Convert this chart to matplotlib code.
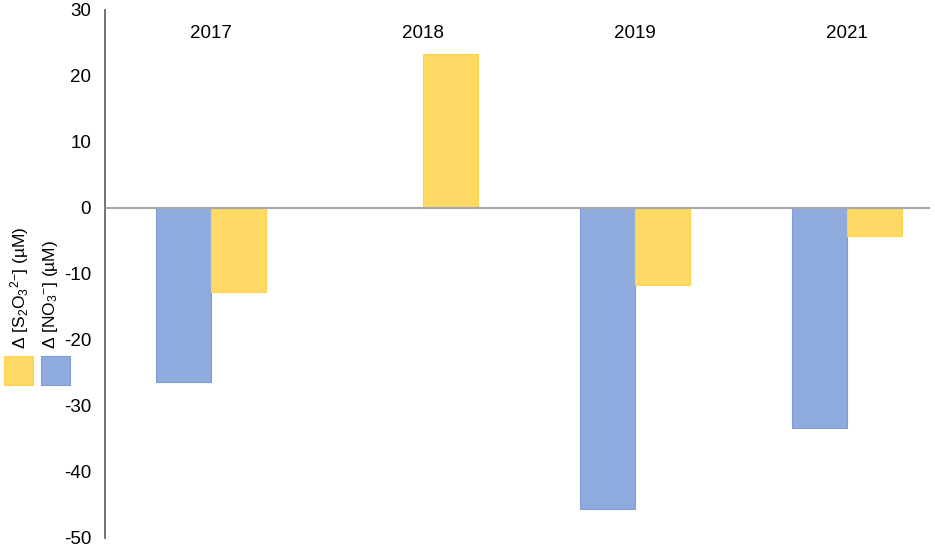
import numpy as np
import matplotlib
matplotlib.use("Agg")
from matplotlib import pyplot as plt
from matplotlib.patches import Rectangle

years = ["2017", "2018", "2019", "2021"]
no3 = [-26.4, np.nan, -45.6, -33.3]      # Δ[NO3-] (µM)
s2o3 = [-12.8, 23.3, -11.7, -4.2]        # Δ[S2O3 2-] (µM)
yticks = [30, 20, 10, 0, -10, -20, -30, -40, -50]

blue = "#8faadc"
yellow = "#ffd966"

plt.rcParams['font.family'] = ['Liberation Sans', 'DejaVu Sans']
plt.rcParams['font.size'] = 13.5
plt.rcParams['axes.unicode_minus'] = False
plt.rcParams['mathtext.fontset'] = 'custom'
plt.rcParams['mathtext.rm'] = 'Liberation Sans'
plt.rcParams['mathtext.it'] = 'Liberation Sans:italic'

W, H = 935, 549
fig = plt.figure(figsize=(W / 100, H / 100), dpi=100)
ax = fig.add_axes([105 / W, 1 - 538 / H, (930 - 105) / W, (538 - 10) / H])

x = np.arange(len(years))
w = 0.26
ax.bar(x - w / 2, no3, w, color=blue, edgecolor="#7f9ed8", linewidth=0.8)
ax.bar(x + w / 2, s2o3, w, color=yellow, edgecolor="#ffd24d", linewidth=0.8)

ax.axhline(0, color="#a6a6a6", linewidth=1.5, zorder=3)
ax.set_xlim(-0.5, 3.39)
ax.set_ylim(-50, 30)
ax.set_yticks(yticks)
ax.set_xticks([])
ax.tick_params(axis='y', length=0, pad=10)

for s in ["top", "right", "bottom"]:
    ax.spines[s].set_visible(False)
ax.spines["left"].set_color("#595959")
ax.spines["left"].set_linewidth(1.2)

for i, yr in enumerate(years):
    ax.text(i, 0.972, yr, transform=ax.get_xaxis_transform(),
            ha="center", va="top", fontsize=13.5)

# legend drawn by hand at left edge
fig.patches.append(Rectangle((4 / W, 1 - 385 / H), 29 / W, 29 / H,
                             transform=fig.transFigure, facecolor=yellow,
                             edgecolor="#ffd24d", linewidth=0.8))
fig.patches.append(Rectangle((41 / W, 1 - 385 / H), 29 / W, 29 / H,
                             transform=fig.transFigure, facecolor=blue,
                             edgecolor="#7f9ed8", linewidth=0.8))
fig.text(20 / W, 1 - 349 / H, r"Δ [S$_{2}$O$_{3}$$^{2\mathrm{-}}$] (µM)",
         rotation=90, ha="center", va="bottom", fontsize=12.5)
fig.text(50 / W, 1 - 349 / H, r"Δ [NO$_{3}$$^{\mathrm{-}}$] (µM)",
         rotation=90, ha="center", va="bottom", fontsize=12.5)

fig.savefig("out.png", dpi=100)
